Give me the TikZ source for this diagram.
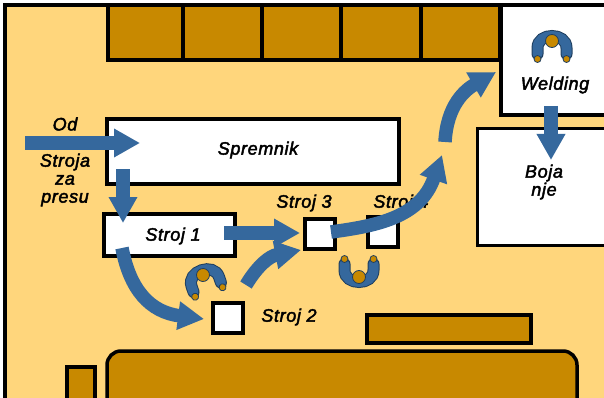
\documentclass[tikz,border=0pt]{standalone}
\usepackage{fontspec}
\setmainfont{Liberation Sans}[ItalicFeatures={FakeBold=2.4,LetterSpace=3.5}]
\usetikzlibrary{arrows.meta,calc}
\definecolor{floorc}{HTML}{FFD67C}
\definecolor{brownc}{HTML}{C88900}
\definecolor{bluec}{HTML}{35689D}
\definecolor{edgec}{HTML}{1F3F60}
\tikzset{
  lab/.style={font=\fontsize{18}{18}\selectfont\itshape, align=center, inner sep=0pt, text=black},
  whitebox/.style={draw=black, line width=3.5pt, fill=white, inner sep=0pt, outer sep=0pt, anchor=north west},
  brownbox/.style={draw=black, line width=3.5pt, fill=brownc, inner sep=0pt, outer sep=0pt, anchor=north west},
  flow/.style={draw=bluec, line width=13.5pt, -{Triangle[length=26pt,width=27pt]}},
  person/.pic={
    \draw[edgec, line width=12pt, line cap=round] (-14.5,13) -- (-14.5,7) .. controls (-14.5,-9) and (14.5,-9) .. (14.5,7) -- (14.5,13);
    \draw[bluec, line width=10pt, line cap=round] (-14.5,13) -- (-14.5,7) .. controls (-14.5,-9) and (14.5,-9) .. (14.5,7) -- (14.5,13);
    \filldraw[fill=brownc, draw=edgec, line width=0.8pt] (0,0) circle (6.5);
    \filldraw[fill=brownc, draw=edgec, line width=0.8pt] (-14.5,18) circle (3.5);
    \filldraw[fill=brownc, draw=edgec, line width=0.8pt] (14.5,18) circle (3.5);
  }
}
\begin{document}
\begin{tikzpicture}[x=1pt,y=-1pt]
\useasboundingbox (0,0) rectangle (604,398);
\fill[white] (0,0) rectangle (604,398);
\fill[floorc] (5,5) rectangle (604,398);
\draw[black, line width=3.5pt] (5,404) -- (5,5) -- (610,5);
% top shelves
\foreach \a/\b/\n in {108/183/a,183/262/b,262/341/c,341/421/d,421/500/e}{
  \node[brownbox, minimum width={(\b-\a)*1pt}, minimum height=55pt] (shelf\n) at (\a,5) {};
}
% boxes
\node[whitebox, minimum width=110pt, minimum height=110pt] (weldbox) at (501,5) {};
\node[whitebox, minimum width=134pt, minimum height=117pt] (bojabox) at (477.5,128.5) {};
\node[whitebox, minimum width=292pt, minimum height=65pt] (spremnik) at (107,119) {};
\node[whitebox, minimum width=131pt, minimum height=42pt] (stroja) at (104,214) {};
\node[whitebox, minimum width=30pt, minimum height=30pt] (strojc) at (305,219) {};
\node[whitebox, minimum width=30pt, minimum height=30pt] (strojd) at (368,217) {};
\node[whitebox, minimum width=30pt, minimum height=30pt] (strojb) at (213,303) {};
\node[brownbox, minimum width=164pt, minimum height=28pt] (bench) at (367,315) {};
\node[brownbox, minimum width=28pt, minimum height=40pt] (post) at (67,367) {};
\filldraw[draw=black, fill=brownc, line width=3.5pt, rounded corners=14pt] (107,410) -- (107,351) -- (577,351) -- (577,410);
% labels
\node[lab] (od) at (65,124) {Od};
\node[lab] (za) at (65,180) {Stroja\\za\\presu};
\node[lab] at (258,150) {Spremnik};
\node[lab] at (173,236) {Stroj 1};
\node[lab] (l2) at (289,317) {Stroj 2};
\node[lab] (l3) at (304,203) {Stroj 3};
\node[lab] (l4) at (401,203) {Stroj 4};
\node[lab] at (555,85) {Welding};
\node[lab] at (544,182) {Boja\\nje};
% people
\pic[rotate=0] at (552,41) {person};
\pic[rotate=180] at (359,277) {person};
\pic[rotate=19] at (203,275) {person};
% connector ends
\coordinate (a1) at (25,143);   \coordinate (a2) at (140,143);
\coordinate (b1) at (123,169);  \coordinate (b2) at (123,223);
\coordinate (c1) at (224,233);  \coordinate (c2) at (300,233);
\coordinate (d1) at (122,248);  \coordinate (d2) at (204,319);
\coordinate (e1) at (246,285);  \coordinate (e2) at (301,250);
\coordinate (f1) at (331,232);  \coordinate (f2) at (442,155);
\coordinate (g1) at (445,142);  \coordinate (g2) at (496,72);
\coordinate (h1) at (551,106);  \coordinate (h2) at (551,160);
\draw[flow] (a1) -- (a2);
\draw[flow] (b1) -- (b2);
\draw[flow] (c1) -- (c2);
\draw[flow] (d1) .. controls (130,290) and (150,312) .. (d2);
\draw[flow] (e1) .. controls (258,265) and (270,256) .. (e2);
\draw[flow] (f1) .. controls (375,226) and (420,218) .. (f2);
\draw[flow] (g1) .. controls (447,105) and (465,90) .. (g2);
\draw[flow] (h1) -- (h2);
\end{tikzpicture}
\end{document}
